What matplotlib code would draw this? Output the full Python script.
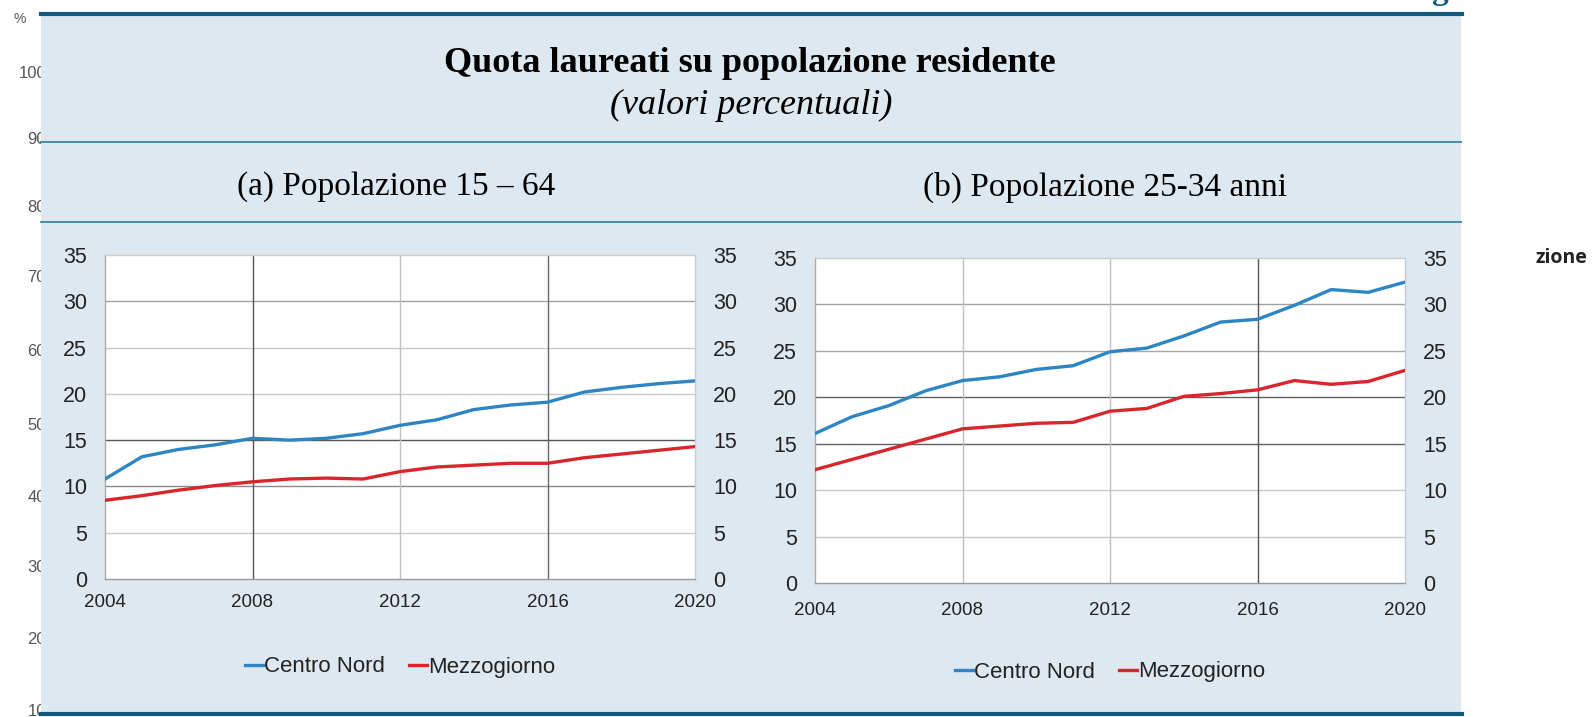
import matplotlib
matplotlib.use("Agg")
from matplotlib import pyplot as plt
from matplotlib.patches import Rectangle
from matplotlib.lines import Line2D

years = list(range(2004, 2021))

# (a) Popolazione 15-64
nord_a = [10.8, 13.2, 14.0, 14.5, 15.2, 15.0, 15.2, 15.7, 16.6, 17.2, 18.3, 18.8, 19.1, 20.2, 20.7, 21.1, 21.4]
sud_a = [8.5, 9.0, 9.6, 10.1, 10.5, 10.8, 10.9, 10.8, 11.6, 12.1, 12.3, 12.5, 12.5, 13.1, 13.5, 13.9, 14.3]

# (b) Popolazione 25-34 anni
nord_b = [16.1, 17.9, 19.1, 20.7, 21.8, 22.2, 23.0, 23.4, 24.9, 25.3, 26.6, 28.1, 28.4, 29.9, 31.6, 31.3, 32.4]
sud_b = [12.2, 13.3, 14.4, 15.5, 16.6, 16.9, 17.2, 17.3, 18.5, 18.8, 20.1, 20.4, 20.8, 21.8, 21.4, 21.7, 22.9]

yticks = [0, 5, 10, 15, 20, 25, 30, 35]
xticks = [2004, 2008, 2012, 2016, 2020]
series_names = ["Centro Nord", "Mezzogiorno"]

title = "Quota laureati su popolazione residente"
subtitle = "(valori percentuali)"
panel_titles = ["(a) Popolazione 15 – 64", "(b) Popolazione 25-34 anni"]

# leftover labels of the page behind the panel
bg_labels = ["%", "100", "90", "80", "70", "60", "50", "40", "30", "20", "10"]
bg_label_y = [19, 73, 139, 208, 278, 351, 425, 497, 567, 639, 712]

BLUE = "#2d86c3"
RED = "#d9262c"
PANEL = "#dee8f1"
DARK = "#125b7e"
SEP = "#4a8aa8"

W, H = 1595, 717
fig = plt.figure(figsize=(W / 100, H / 100), dpi=100)
fig.patch.set_facecolor("white")


def fx(px):
    return px / W


def fy(py):
    return 1 - py / H


# light blue panel
fig.patches.append(Rectangle((fx(41), fy(714)), fx(1461) - fx(41), fy(14) - fy(714),
                             transform=fig.transFigure, facecolor=PANEL, edgecolor="none", zorder=1))
fig.add_artist(Line2D([fx(41), fx(1462)], [fy(14), fy(14)], color=DARK, lw=3, zorder=3))
fig.add_artist(Line2D([fx(41), fx(1462)], [fy(714), fy(714)], color=DARK, lw=3, zorder=3))
for yy in [142, 222]:
    fig.add_artist(Line2D([fx(41), fx(1461)], [fy(yy), fy(yy)], color=SEP, lw=1.4, zorder=3))

for lab, yy in zip(bg_labels, bg_label_y):
    if lab == "%":
        fig.text(fx(14), fy(yy), lab, ha="left", va="center", fontsize=10,
                 color="#555555", family="Liberation Sans", zorder=0.5)
    else:
        fig.text(fx(46), fy(yy), lab, ha="right", va="center", fontsize=12,
                 color="#555555", family="Liberation Sans", zorder=0.5)

fig.text(fx(1536), fy(258), "zione", ha="left", va="center", fontsize=14, fontweight="bold",
         color="#222222", family="Open Sans", zorder=3)
fig.text(fx(1440), fy(-1), "g", ha="center", va="baseline", fontsize=24, fontweight="bold",
         color=DARK, family="Liberation Serif", zorder=3)

fig.text(fx(750), fy(63), title, ha="center", va="center", fontsize=26, fontweight="bold",
         family="Liberation Serif", zorder=3)
fig.text(fx(751), fy(105), subtitle, ha="center", va="center", fontsize=26, style="italic",
         family="Liberation Serif", zorder=3)
fig.text(fx(396), fy(187), panel_titles[0], ha="center", va="center", fontsize=24,
         family="Liberation Serif", zorder=3)
fig.text(fx(1105), fy(187), panel_titles[1], ha="center", va="center", fontsize=24,
         family="Liberation Serif", zorder=3)

# gridline shades as they look in the scan
hgrid = [
    {5: "#c8c8c8", 10: "#8a8a8a", 15: "#555555", 20: "#c8c8c8", 25: "#c8c8c8", 30: "#a0a0a0"},
    {5: "#c8c8c8", 10: "#c8c8c8", 15: "#606060", 20: "#606060", 25: "#a8a8a8", 30: "#a0a0a0"},
]
vgrid = [
    {2008: "#555555", 2012: "#c0c0c0", 2016: "#666666"},
    {2008: "#c0c0c0", 2012: "#c0c0c0", 2016: "#555555"},
]

boxes = [(105, 695, 255, 579), (815, 1405, 258, 583)]
xpads = [10.5, 13.5]
legend_pos = [(400, 667), (1110, 672)]
data = [(nord_a, sud_a), (nord_b, sud_b)]

for i, (x0, x1, y0, y1) in enumerate(boxes):
    ax = fig.add_axes([fx(x0), fy(y1), fx(x1) - fx(x0), fy(y0) - fy(y1)], zorder=2)
    ax.set_facecolor("white")
    for v, c in hgrid[i].items():
        ax.axhline(v, color=c, lw=1.0, zorder=1)
    for v, c in vgrid[i].items():
        ax.axvline(v, color=c, lw=1.0, zorder=1)
    nord, sud = data[i]
    l1, = ax.plot(years, nord, color=BLUE, lw=2.4, zorder=3, label=series_names[0])
    l2, = ax.plot(years, sud, color=RED, lw=2.4, zorder=3, label=series_names[1])
    ax.set_xlim(2004, 2020)
    ax.set_ylim(0, 35)
    ax.set_xticks(xticks)
    ax.set_yticks(yticks)
    ax.tick_params(axis="y", length=0, pad=13, labelsize=15.5, left=True, right=True,
                   labelleft=True, labelright=True, labelcolor="#222222")
    ax.tick_params(axis="x", length=0, pad=xpads[i], labelsize=13.5, labelcolor="#222222")
    for lab in ax.get_xticklabels() + ax.get_yticklabels():
        lab.set_family("Liberation Sans")
    for s in ["top", "right"]:
        ax.spines[s].set_color("#cccccc")
    ax.spines["left"].set_color("#aaaaaa")
    ax.spines["bottom"].set_color("#999999")
    for s in ax.spines.values():
        s.set_linewidth(1.0)
    lx, ly = legend_pos[i]
    leg = ax.legend(handles=[l1, l2], loc="center", bbox_to_anchor=(fx(lx), fy(ly)),
                    bbox_transform=fig.transFigure, ncol=2, frameon=False,
                    handlelength=0.8, handletextpad=0.05, columnspacing=1.1,
                    prop={"family": "Liberation Sans", "size": 16})
    for t in leg.get_texts():
        t.set_color("#222222")

fig.savefig("out.png", dpi=100, facecolor="white")
